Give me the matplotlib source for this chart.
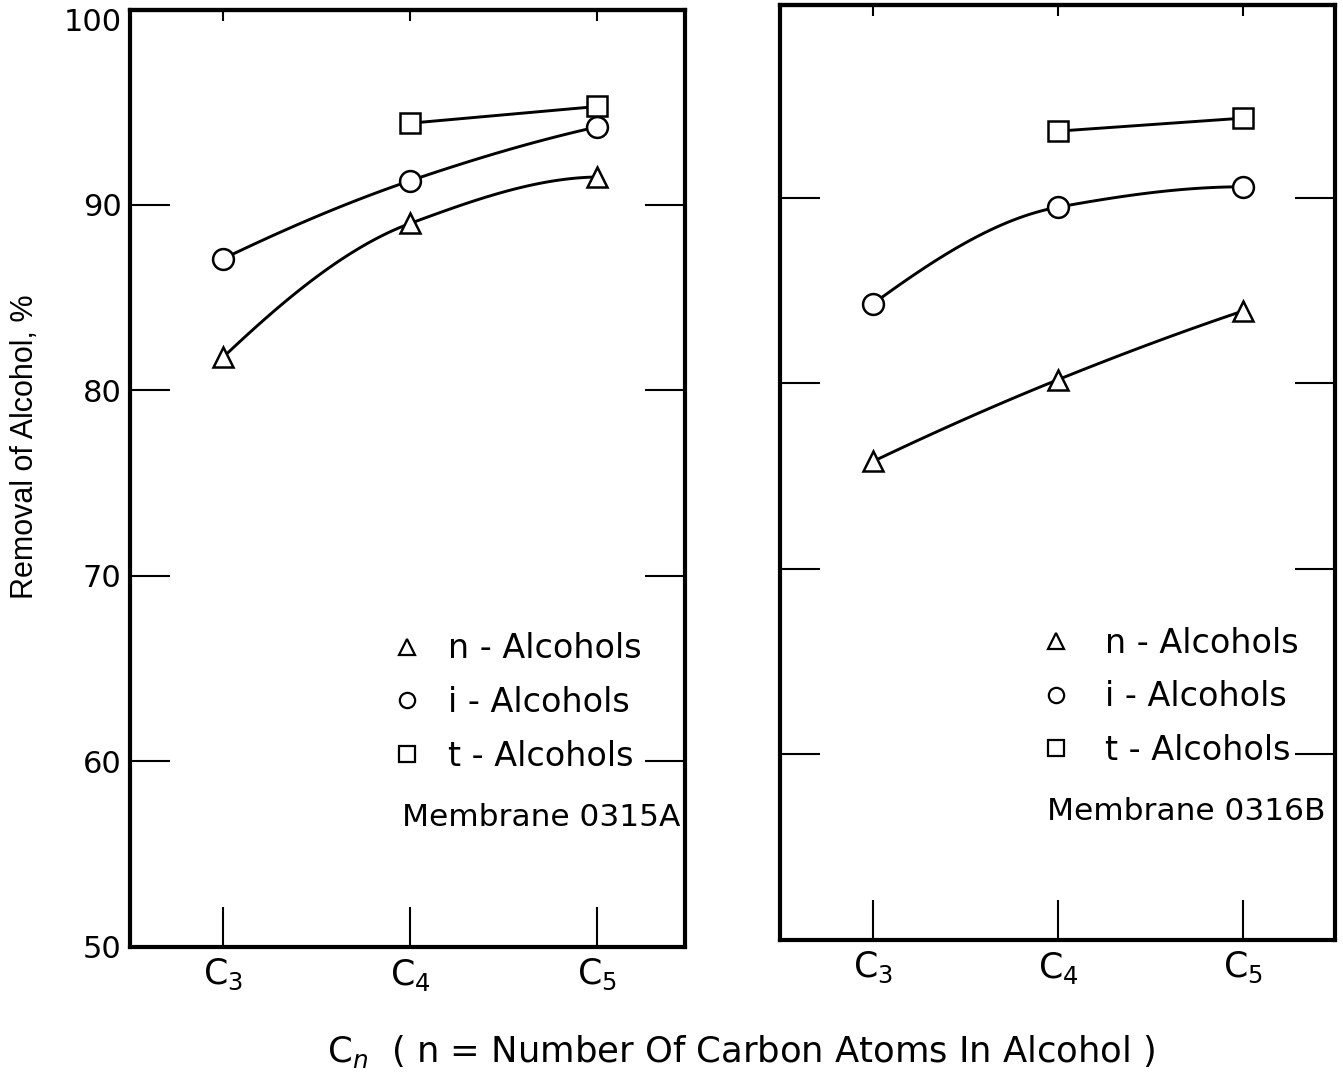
import matplotlib
matplotlib.use("Agg")
import matplotlib.pyplot as plt
from matplotlib.lines import Line2D
import numpy as np

plt.rcParams['font.family'] = ['DejaVu Sans']
plt.rcParams['mathtext.fontset'] = 'dejavusans'

# carbon number of the alcohol
carbons = [3, 4, 5]
carbon_labels = ["C$_3$", "C$_4$", "C$_5$"]
t_carbons = [4, 5]

# removal of alcohol, %  -- membrane 0315A
n_315a = [81.8, 89.0, 91.5]
i_315a = [87.1, 91.3, 94.2]
t_315a = [94.4, 95.3]

# removal of alcohol, %  -- membrane 0316B
n_316b = [75.8, 80.2, 83.9]
i_316b = [84.3, 89.5, 90.6]
t_316b = [93.6, 94.3]

yticks = [50, 60, 70, 80, 90, 100]
series_names = ["n - Alcohols", "i - Alcohols", "t - Alcohols"]

fig = plt.figure(figsize=(13.43, 10.8), dpi=100)

ax1 = fig.add_axes([130/1343, 1 - 947/1080, 555/1343, 937/1080])
ax2 = fig.add_axes([780/1343, 1 - 940/1080, 555/1343, 935/1080])


def smooth(x, y):
    # monotone cubic (pchip) curve through the points, straight for 2 pts
    x = np.asarray(x, float)
    y = np.asarray(y, float)
    if len(x) < 3:
        return x, y
    h = np.diff(x)
    d = np.diff(y) / h
    m = np.zeros_like(y)
    for k in range(1, len(x) - 1):
        if d[k-1] * d[k] > 0:
            w1 = 2*h[k] + h[k-1]
            w2 = h[k] + 2*h[k-1]
            m[k] = (w1 + w2) / (w1/d[k-1] + w2/d[k])
    for k, (hh0, hh1, dd0, dd1) in [(0, (h[0], h[1], d[0], d[1])),
                                    (-1, (h[-1], h[-2], d[-1], d[-2]))]:
        e = ((2*hh0 + hh1)*dd0 - hh0*dd1) / (hh0 + hh1)
        if np.sign(e) != np.sign(dd0):
            e = 0.0
        elif np.sign(dd0) != np.sign(dd1) and abs(e) > 3*abs(dd0):
            e = 3*dd0
        m[k] = e
    xs, ys = [], []
    for k in range(len(x) - 1):
        t = np.linspace(0, 1, 50)
        h00 = 2*t**3 - 3*t**2 + 1
        h10 = t**3 - 2*t**2 + t
        h01 = -2*t**3 + 3*t**2
        h11 = t**3 - t**2
        xs.append(x[k] + t*h[k])
        ys.append(h00*y[k] + h10*h[k]*m[k] + h01*y[k+1] + h11*h[k]*m[k+1])
    return np.concatenate(xs), np.concatenate(ys)


def panel(ax, n, i, t, name, ylim, xlim, show_ylabels, leg_xy, leg_pad, name_xy):
    for x, y, m in [(carbons, n, '^'), (carbons, i, 'o'), (t_carbons, t, 's')]:
        xs, ys = smooth(x, y)
        ax.plot(xs, ys, color='black', lw=2.1, zorder=2)
        ms = {'^': 15, 'o': 15, 's': 14}[m]
        ax.plot(x, y, m, ms=ms, mfc='white', mec='black', mew=1.8, zorder=3)

    ax.set_ylim(*ylim)
    ax.set_xlim(*xlim)
    ax.set_yticks(yticks)
    ax.set_xticks(carbons)
    ax.set_xticklabels(carbon_labels)
    if not show_ylabels:
        ax.set_yticklabels([])
    ax.tick_params(axis='y', direction='in', length=29, width=1.5,
                   left=True, right=True, labelsize=22, pad=6)
    ax.tick_params(axis='x', direction='in', length=29, width=1.5,
                   bottom=True, top=False, labelsize=25, pad=7)
    # the 50 and 100 marks sit on the frame
    for tk, v in zip(ax.yaxis.get_major_ticks(), yticks):
        if v in (50, 100):
            tk.tick1line.set_visible(False)
            tk.tick2line.set_visible(False)
    for s in ax.spines.values():
        s.set_linewidth(3)

    top = ax.secondary_xaxis('top')
    top.set_xticks(carbons)
    top.tick_params(direction='in', length=8, width=1.5, labeltop=False)
    top.spines['top'].set_linewidth(3)

    handles = [Line2D([], [], ls='none', marker=m, ms=11, mfc='white',
                      mec='black', mew=1.6) for m in ['^', 'o', 's']]
    ax.legend(handles, series_names, loc='upper left',
              bbox_to_anchor=leg_xy, frameon=False, fontsize=24,
              handlelength=1.0, handletextpad=leg_pad, labelspacing=0.62,
              borderpad=0, borderaxespad=0)
    ax.text(name_xy[0], name_xy[1], name, transform=ax.transAxes, ha='right',
            va='center', fontsize=22.5)


panel(ax1, n_315a, i_315a, t_315a, "Membrane 0315A", (50, 100.5), (2.5, 5.47),
      True, (0.469, 0.336), 0.72, (0.991, 0.138))
panel(ax2, n_316b, i_316b, t_316b, "Membrane 0316B", (50, 100.4), (2.496, 5.5),
      False, (0.468, 0.335), 0.97, (0.982, 0.137))

fig.text(25/1343, 1 - 447/1080, "Removal of Alcohol, %", rotation=90,
         ha='center', va='center', fontsize=22, family='Liberation Sans')

fig.text(741/1343, 1 - 1052/1080,
         "C$_n$  ( n = Number Of Carbon Atoms In Alcohol )",
         ha='center', va='center', fontsize=25.5)

fig.savefig("out.png", dpi=100, facecolor='white')
